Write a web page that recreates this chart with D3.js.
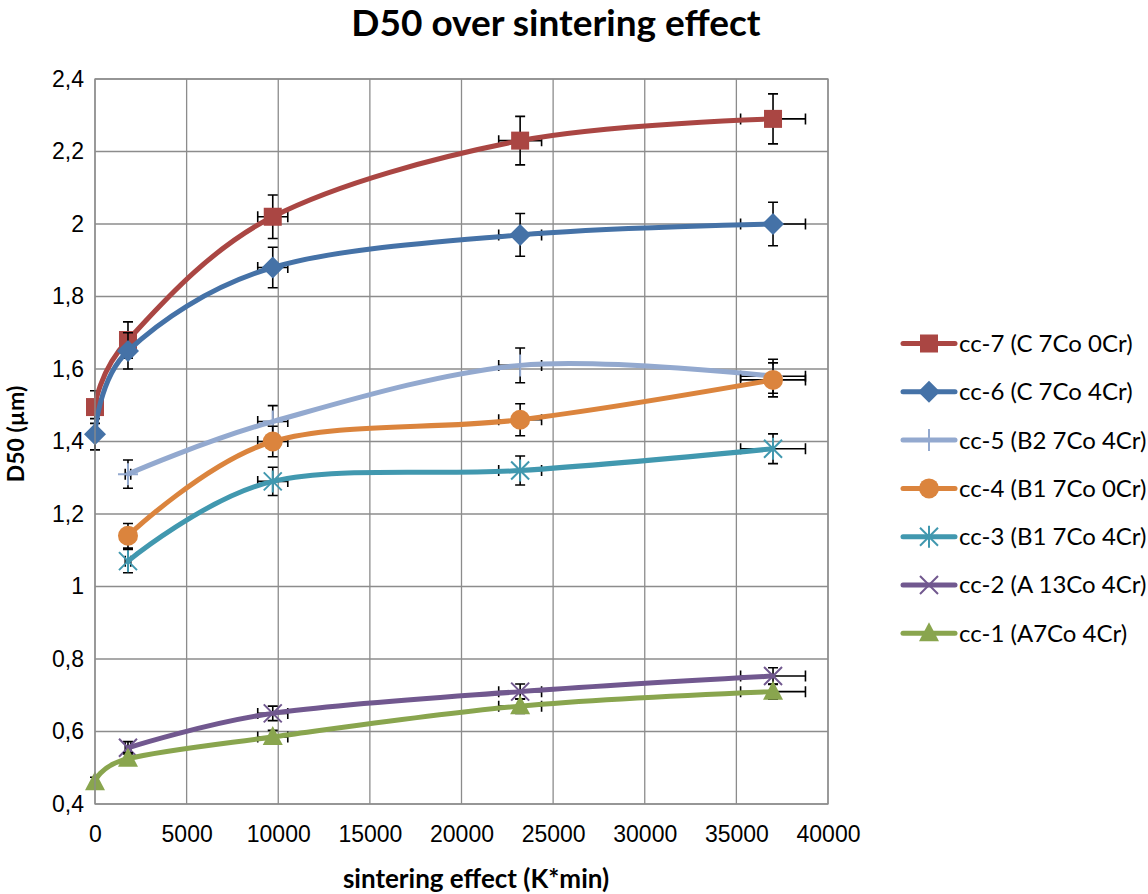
<!DOCTYPE html>
<html>
<head>
<meta charset="utf-8">
<script src="https://cdn.jsdelivr.net/npm/d3@7"></script>
<style>
  body { margin: 0; background: #fff; }
  svg { font-family: Lato, "Open Sans", sans-serif; }
  .grid line { stroke: #8c8c8c; stroke-width: 1.3; }
  .tick text { fill: #000; }
</style>
</head>
<body>
<div id="chart"></div>
<script>
// de x-waarden (sintering effect, K*min) en de foutmarges op x
var xWaarden = [0, 1800, 9700, 23200, 37000];
var xFout = [0, 150, 820, 1170, 1770];

// namen van de reeksen, in legenda-volgorde
var namen = ["cc-7 (C 7Co 0Cr)", "cc-6 (C 7Co 4Cr)", "cc-5 (B2 7Co 4Cr)", "cc-4 (B1 7Co 0Cr)",
             "cc-3 (B1 7Co 4Cr)", "cc-2 (A 13Co 4Cr)", "cc-1 (A7Co 4Cr)"];

// D50 waarden per reeks (null = geen meting)
var cc7 = [1.495, 1.68, 2.02, 2.23, 2.29];
var cc6 = [1.42, 1.65, 1.88, 1.97, 2.00];
var cc5 = [null, 1.31, 1.455, 1.61, 1.58];
var cc4 = [null, 1.14, 1.40, 1.46, 1.57];
var cc3 = [null, 1.07, 1.29, 1.32, 1.38];
var cc2 = [null, 0.555, 0.65, 0.71, 0.753];
var cc1 = [0.46, 0.525, 0.585, 0.67, 0.71];

// foutmarges op y per reeks
var fout7 = [0.045, 0.05, 0.06, 0.067, 0.069];
var fout6 = [0.043, 0.05, 0.056, 0.059, 0.06];
var fout5 = [null, 0.039, 0.044, 0.048, 0.047];
var fout4 = [null, 0.034, 0.042, 0.044, 0.047];
var fout3 = [null, 0.032, 0.039, 0.04, 0.041];
var fout2 = [null, 0.017, 0.02, 0.021, 0.023];
var fout1 = [0.014, 0.016, 0.018, 0.02, 0.021];

var kleuren = ["#AA4643", "#4572A7", "#93A9CF", "#DB843D", "#4198AF", "#71588F", "#89A54E"];
var markers = ["square", "diamond", "plus", "circle", "asterisk", "cross", "triangle"];

var yTicks = [0.4, 0.6, 0.8, 1, 1.2, 1.4, 1.6, 1.8, 2, 2.2, 2.4];
var xTicks = [0, 5000, 10000, 15000, 20000, 25000, 30000, 35000, 40000];

const width = 1148
const height = 894
const plot = {left: 95, right: 828, top: 79, bottom: 804}

var waarden = [cc7, cc6, cc5, cc4, cc3, cc2, cc1];
var fouten = [fout7, fout6, fout5, fout4, fout3, fout2, fout1];

var reeksen = namen.map(function(naam, i) {
  var punten = [];
  waarden[i].forEach(function(v, j) {
    if (v !== null) punten.push({x: xWaarden[j], y: v, ex: xFout[j], ey: fouten[i][j]});
  });
  return {naam: naam, kleur: kleuren[i], marker: markers[i], punten: punten};
});

var xScale = d3.scaleLinear().domain([0, 40000]).range([plot.left, plot.right]);
var yScale = d3.scaleLinear().domain([0.4, 2.4]).range([plot.bottom, plot.top]);

var svg = d3.select("#chart").append("svg")
    .attr("width", width)
    .attr("height", height);

// rasterlijnen
var grid = svg.append("g").attr("class", "grid");
grid.selectAll(".gx").data(xTicks).enter().append("line")
    .attr("x1", function(d) { return xScale(d); })
    .attr("x2", function(d) { return xScale(d); })
    .attr("y1", plot.top).attr("y2", plot.bottom);
grid.selectAll(".gy").data(yTicks).enter().append("line")
    .attr("x1", plot.left).attr("x2", plot.right)
    .attr("y1", function(d) { return yScale(d); })
    .attr("y2", function(d) { return yScale(d); });

// assen
var fmtY = function(d) { return d3.format("~g")(d).replace(".", ","); };
svg.append("g")
    .attr("transform", "translate(0," + plot.bottom + ")")
    .call(d3.axisBottom(xScale).tickValues(xTicks).tickSize(0).tickPadding(22).tickFormat(d3.format("d")))
    .call(function(g) { g.select(".domain").remove(); })
    .selectAll("text").style("font-size", "23px");
svg.append("g")
    .attr("transform", "translate(" + plot.left + ",0)")
    .call(d3.axisLeft(yScale).tickValues(yTicks).tickSize(0).tickPadding(11).tickFormat(fmtY))
    .call(function(g) { g.select(".domain").remove(); })
    .selectAll("text").style("font-size", "23px");

// titel en as-labels
svg.append("text")
    .attr("x", 556).attr("y", 36)
    .attr("text-anchor", "middle")
    .style("font-size", "37px").style("font-weight", "bold")
    .text("D50 over sintering effect");
svg.append("text")
    .attr("x", 476).attr("y", 888)
    .attr("text-anchor", "middle")
    .style("font-size", "26px").style("font-weight", "bold")
    .text("sintering effect (K*min)");
svg.append("text")
    .attr("transform", "translate(24,434) rotate(-90)")
    .attr("text-anchor", "middle")
    .style("font-size", "23px").style("font-weight", "bold")
    .text("D50 (µm)");

// marker tekenen
function tekenMarker(g, type, kleur) {
  if (type === "square") {
    g.append("rect").attr("x", -9).attr("y", -9).attr("width", 18).attr("height", 18).attr("fill", kleur);
  } else if (type === "diamond") {
    g.append("path").attr("d", "M0,-11L11,0L0,11L-11,0Z").attr("fill", kleur);
  } else if (type === "circle") {
    g.append("circle").attr("r", 10).attr("fill", kleur);
  } else if (type === "triangle") {
    g.append("path").attr("d", "M0,-11L10,8L-10,8Z").attr("fill", kleur);
  } else if (type === "plus") {
    g.append("path").attr("d", "M0,-11V11M-10,0H10").attr("stroke", kleur).attr("stroke-width", 2);
  } else if (type === "cross") {
    g.append("path").attr("d", "M-9,-9L9,9M-9,9L9,-9").attr("stroke", kleur).attr("stroke-width", 2);
  } else if (type === "asterisk") {
    g.append("path").attr("d", "M0,-11V11M-9,-9L9,9M-9,9L9,-9").attr("stroke", kleur).attr("stroke-width", 2);
  }
}

var lijn = d3.line()
    .x(function(d) { return xScale(d.x); })
    .y(function(d) { return yScale(d.y); })
    .curve(d3.curveCardinal.tension(0));

// elke reeks: foutmarges, lijn, markers
reeksen.forEach(function(r) {
  var g = svg.append("g").attr("class", "reeks");

  var fb = g.append("g").attr("stroke", "#000").attr("stroke-width", 1.6).attr("fill", "none");
  r.punten.forEach(function(p) {
    var cx = xScale(p.x), cy = yScale(p.y);
    var y1 = yScale(p.y + p.ey), y2 = yScale(p.y - p.ey);
    fb.append("path").attr("d", "M" + cx + "," + y1 + "V" + y2 +
        "M" + (cx - 5) + "," + y1 + "H" + (cx + 5) + "M" + (cx - 5) + "," + y2 + "H" + (cx + 5));
    if (p.ex > 0) {
      var x1 = xScale(p.x - p.ex), x2 = xScale(p.x + p.ex);
      fb.append("path").attr("d", "M" + x1 + "," + cy + "H" + x2 +
          "M" + x1 + "," + (cy - 5.5) + "V" + (cy + 5.5) + "M" + x2 + "," + (cy - 5.5) + "V" + (cy + 5.5));
    }
  });

  g.append("path")
      .datum(r.punten)
      .attr("d", lijn)
      .attr("fill", "none")
      .attr("stroke", r.kleur)
      .attr("stroke-width", 5)
      .attr("stroke-linecap", "round");

  r.punten.forEach(function(p) {
    var m = g.append("g").attr("transform", "translate(" + xScale(p.x) + "," + yScale(p.y) + ")");
    tekenMarker(m, r.marker, r.kleur);
  });
});

// rand van het plotgebied
svg.append("rect")
    .attr("x", plot.left).attr("y", plot.top)
    .attr("width", plot.right - plot.left).attr("height", plot.bottom - plot.top)
    .attr("fill", "none").attr("stroke", "#8c8c8c").attr("stroke-width", 1.3);

// legenda
var legenda = svg.append("g").selectAll("g")
    .data(reeksen)
    .enter().append("g")
    .attr("transform", function(d, i) { return "translate(0," + (343.5 + i * 48.3) + ")"; });
legenda.append("line")
    .attr("x1", 903).attr("x2", 955)
    .attr("stroke", function(d) { return d.kleur; })
    .attr("stroke-width", 5).attr("stroke-linecap", "round");
legenda.each(function(d) {
  var m = d3.select(this).append("g").attr("transform", "translate(929,0)");
  tekenMarker(m, d.marker, d.kleur);
});
legenda.append("text")
    .attr("x", 959).attr("y", 0).attr("dy", "0.35em")
    .style("font-size", "24px")
    .text(function(d) { return d.naam; });
</script>
</body>
</html>
